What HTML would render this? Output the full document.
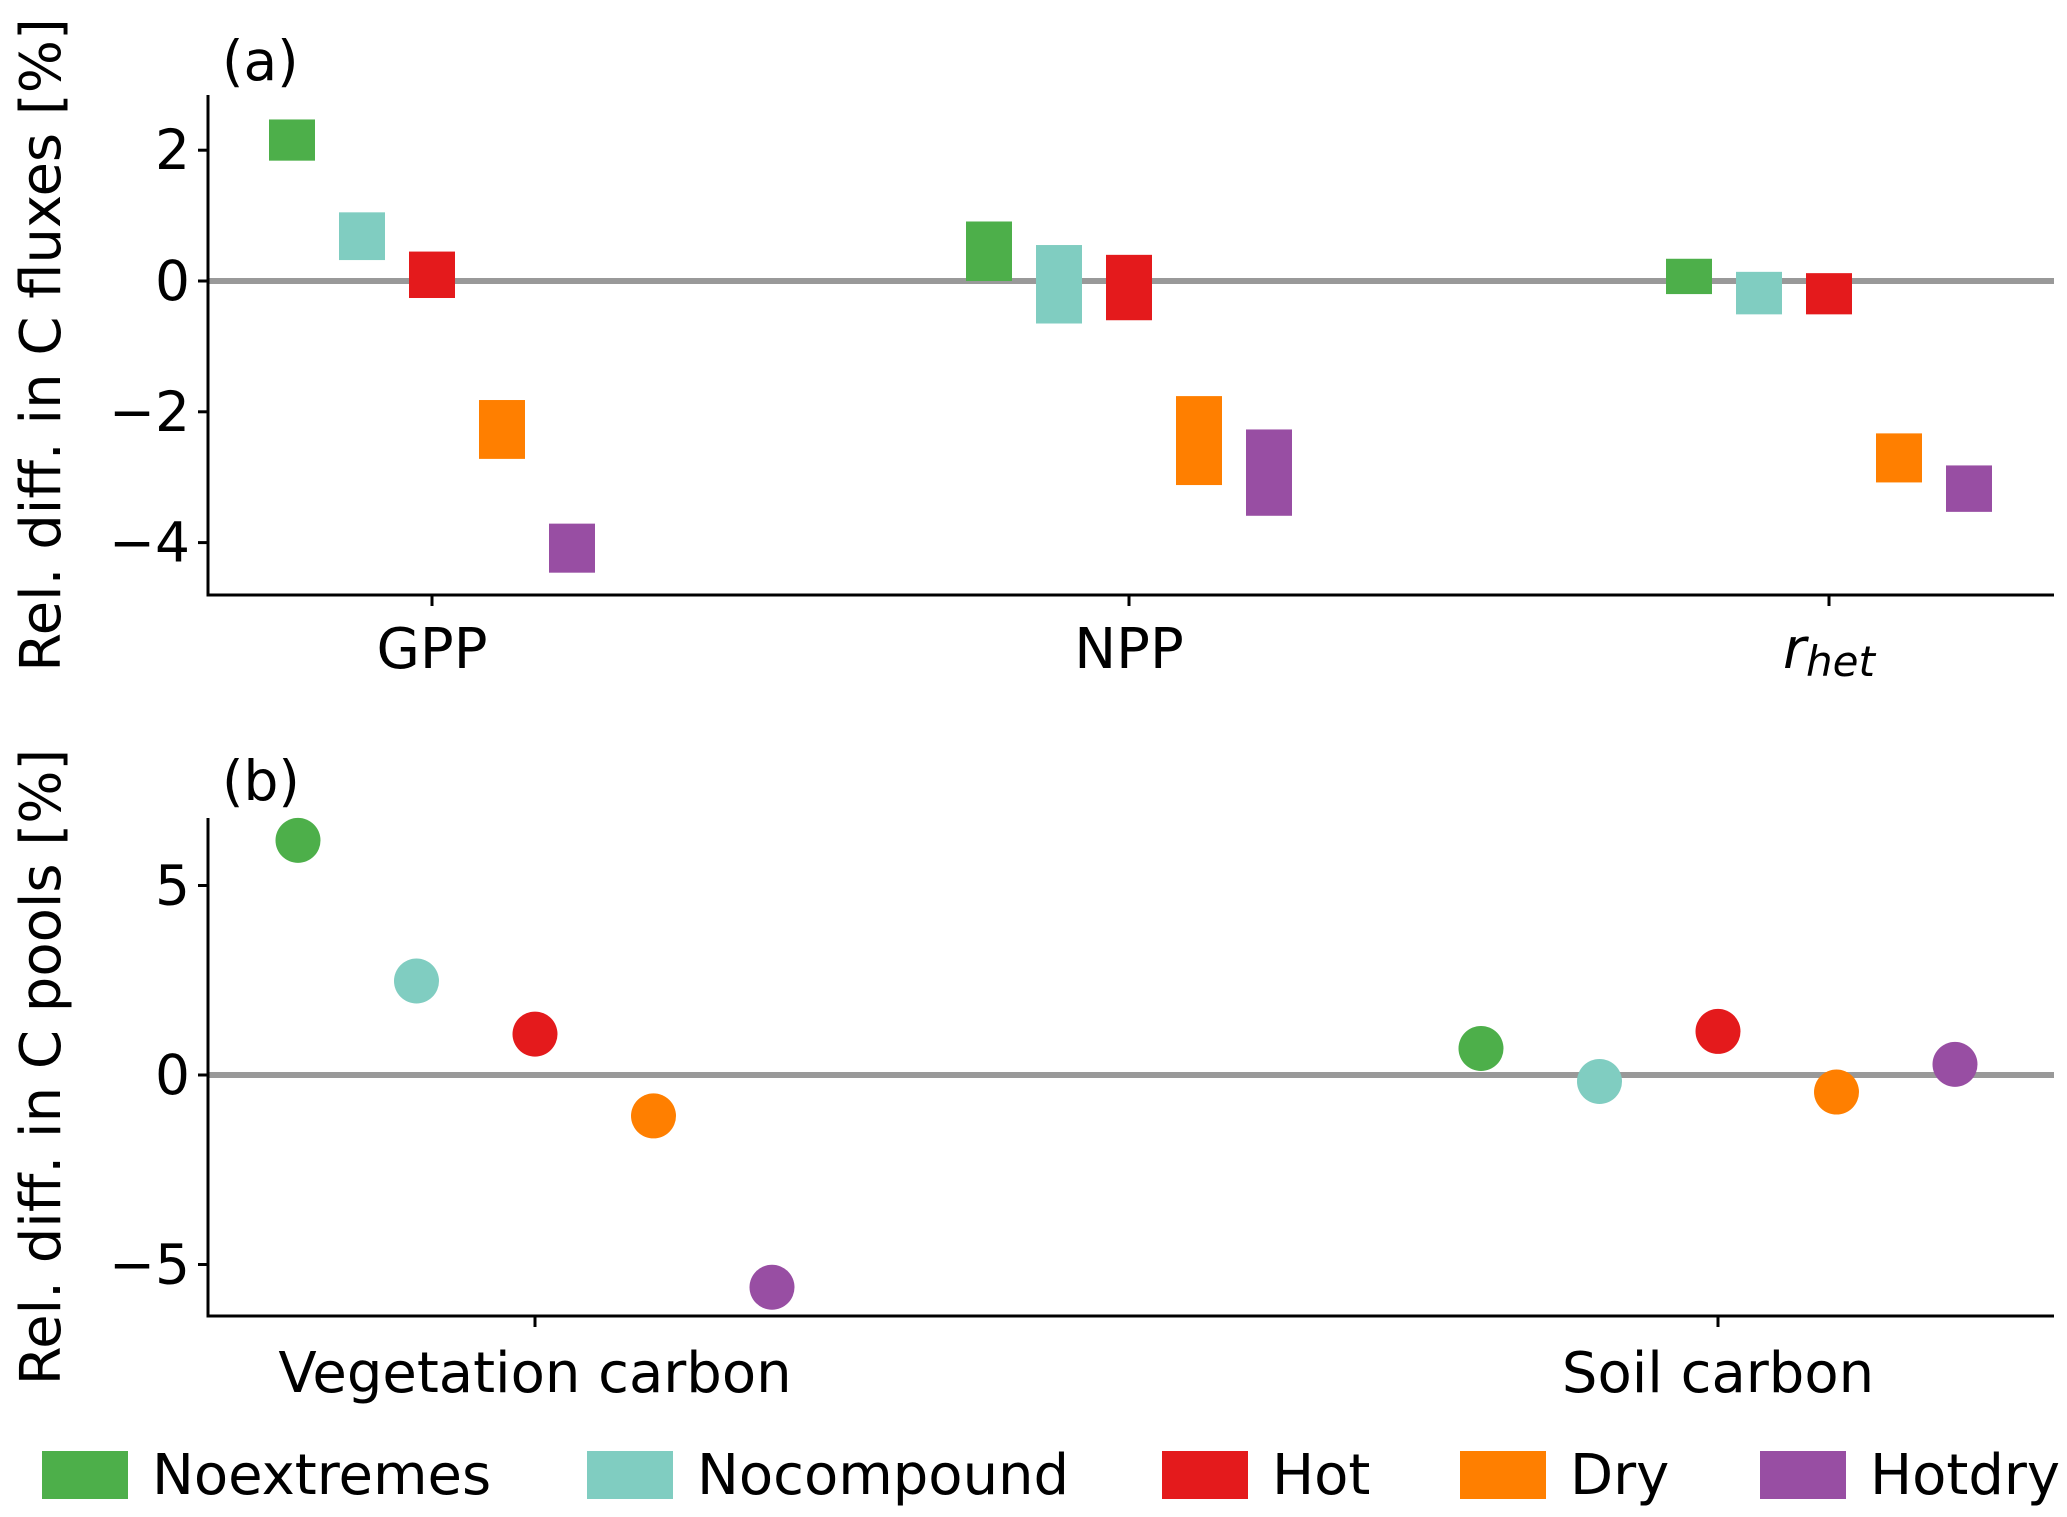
<!DOCTYPE html>
<html><head><meta charset="utf-8"><style>
html,body{margin:0;padding:0;background:#fff}
svg{display:block;font-family:"DejaVu Sans","Liberation Sans",sans-serif}
</style></head><body>
<svg id="chart" width="2067" height="1517" viewBox="0 0 2067 1517" xmlns="http://www.w3.org/2000/svg">
<g id="pa"></g>
<g id="pb"></g>
<g id="legend"></g>
</svg>
<script>
const seriesNames = ["Noextremes","Nocompound","Hot","Dry","Hotdry"];
const seriesColors = ["#4daf4a","#80cdc1","#e41a1c","#ff7f00","#984ea3"];
const fluxCategories = ["GPP","NPP","rhet"];
const fluxTop = [[2.47,1.05,0.45,-1.82,-3.71],[0.91,0.55,0.40,-1.76,-2.27],[0.34,0.14,0.12,-2.33,-2.82]];
const fluxBottom = [[1.84,0.32,-0.26,-2.72,-4.46],[0.0,-0.65,-0.60,-3.12,-3.59],[-0.20,-0.51,-0.51,-3.08,-3.53]];
const fluxTicks = [2,0,-2,-4];
const poolCategories = ["Vegetation carbon","Soil carbon"];
const poolValues = [[6.19,2.48,1.08,-1.08,-5.6],[0.7,-0.17,1.15,-0.45,0.28]];
const poolTicks = [5,0,-5];

const NS="http://www.w3.org/2000/svg";
function mk(parent,tag,attrs,text){const e=document.createElementNS(NS,tag);for(const k in attrs)e.setAttribute(k,attrs[k]);if(text!==undefined)e.textContent=text;parent.appendChild(e);return e;}

// Panel A
const pa=document.getElementById('pa');
const yA=v=>281-v*65.4;
const xA=i=>[432,1129,1829][i];
const axL=208, axR=2054;
fluxTicks.forEach(t=>{
  const tk=mk(pa,'line',{x1:axL-10,x2:axL,y1:yA(t),y2:yA(t),stroke:'#000','stroke-width':3});
  
  
  const lb=mk(pa,'text',{x:axL-18,y:yA(t)+19,'text-anchor':'end','font-size':55},t<0?'\u2212'+Math.abs(t):String(t));
  
  
});
const zA=mk(pa,'line',{x1:axL,x2:axR,y1:yA(0),y2:yA(0),stroke:'#999','stroke-width':6});


fluxCategories.forEach((c,i)=>{
  fluxTop[i].forEach((v,j)=>{
    const cx=xA(i)+(j-2)*70;
    const r=mk(pa,'rect',{x:cx-23,y:yA(v),width:46,height:yA(fluxBottom[i][j])-yA(v),fill:seriesColors[j]});
    
    
  });
  const tk=mk(pa,'line',{x1:xA(i),x2:xA(i),y1:595,y2:606,stroke:'#000','stroke-width':3});
  
  
  let lb;
  if(c==='rhet'){
    lb=mk(pa,'text',{x:xA(i),y:668,'text-anchor':'middle','font-size':56,'font-style':'italic'});
    mk(lb,'tspan',{},'r');
    mk(lb,'tspan',{'font-size':42,dy:8},'het');
  } else {
    lb=mk(pa,'text',{x:xA(i),y:668,'text-anchor':'middle','font-size':56},c);
  }
  
  
});
mk(pa,'line',{x1:axL,x2:axL,y1:95,y2:596,stroke:'#000','stroke-width':3});
mk(pa,'line',{x1:axL-1.5,x2:axR,y1:595,y2:595,stroke:'#000','stroke-width':3});
const ta=mk(pa,'text',{x:222,y:80,'font-size':55},'(a)');


const ya=mk(pa,'text',{x:0,y:0,'text-anchor':'middle','font-size':56,transform:'translate(60,345) rotate(-90)'},'Rel. diff. in C fluxes [%]');



// Panel B
const pb=document.getElementById('pb');
const yB=v=>1075-v*37.9;
const xB=i=>[535,1718][i];
poolTicks.forEach(t=>{
  const tk=mk(pb,'line',{x1:axL-10,x2:axL,y1:yB(t),y2:yB(t),stroke:'#000','stroke-width':3});
  
  
  const lb=mk(pb,'text',{x:axL-18,y:yB(t)+19,'text-anchor':'end','font-size':55},t<0?'\u2212'+Math.abs(t):String(t));
  
  
});
const zB=mk(pb,'line',{x1:axL,x2:axR,y1:yB(0),y2:yB(0),stroke:'#999','stroke-width':6});


poolCategories.forEach((c,i)=>{
  poolValues[i].forEach((v,j)=>{
    const d=mk(pb,'circle',{cx:xB(i)+(j-2)*118.5,cy:yB(v),r:22.5,fill:seriesColors[j]});
    
    
  });
  const tk=mk(pb,'line',{x1:xB(i),x2:xB(i),y1:1316,y2:1327,stroke:'#000','stroke-width':3});
  
  
  const lb=mk(pb,'text',{x:xB(i),y:1392,'text-anchor':'middle','font-size':56},c);
  
  
});
mk(pb,'line',{x1:axL,x2:axL,y1:818,y2:1317,stroke:'#000','stroke-width':3});
mk(pb,'line',{x1:axL-1.5,x2:axR,y1:1316,y2:1316,stroke:'#000','stroke-width':3});
const tb=mk(pb,'text',{x:222,y:800,'font-size':55},'(b)');


const yb=mk(pb,'text',{x:0,y:0,'text-anchor':'middle','font-size':56,transform:'translate(60,1067) rotate(-90)'},'Rel. diff. in C pools [%]');



// Legend
const lg=document.getElementById('legend');
const lgPatchX=[42,587,1162,1460,1760];
seriesNames.forEach((n,j)=>{
  const g=mk(lg,'g',{});
  
  
  const r=mk(g,'rect',{x:lgPatchX[j],y:1451,width:86,height:48,fill:seriesColors[j]});
  
  
  const t=mk(g,'text',{x:lgPatchX[j]+110,y:1494,'font-size':56},n);
  
  
});
</script>
</body></html>
